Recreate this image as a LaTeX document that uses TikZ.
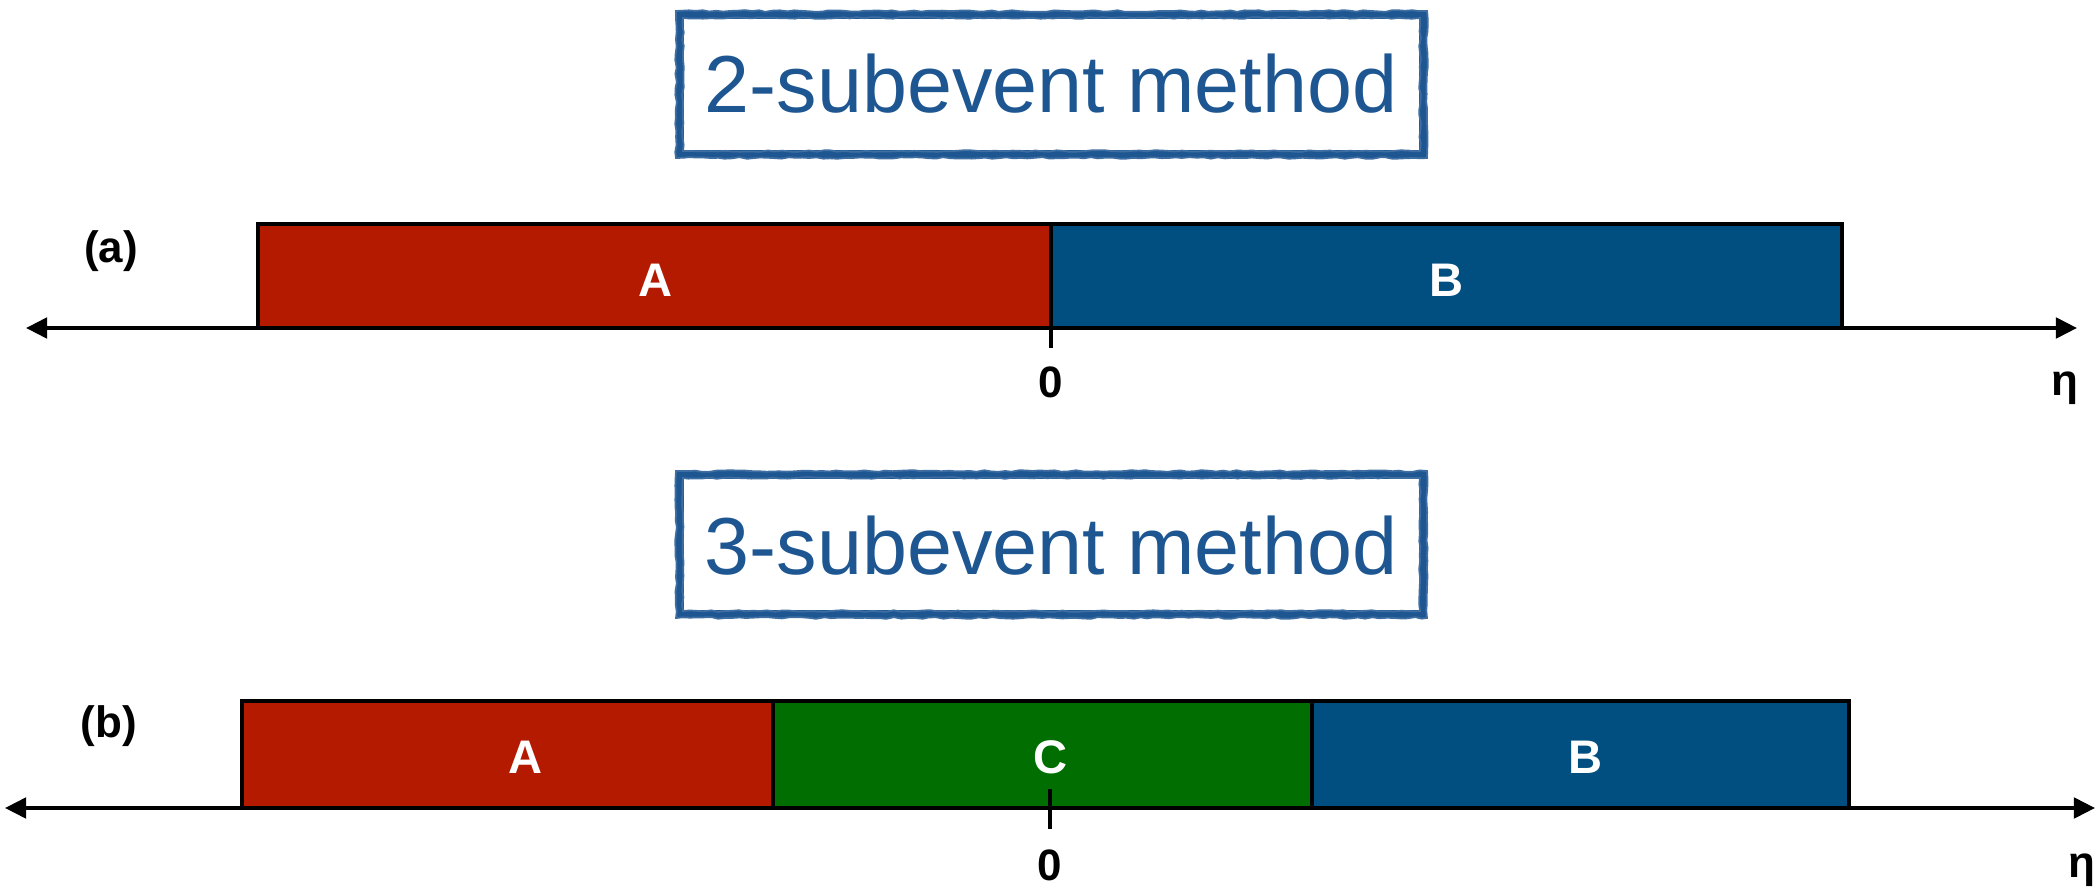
\documentclass[tikz,border=0pt]{standalone}
\usepackage{fontspec}
\setmainfont{Liberation Sans}
\usetikzlibrary{arrows.meta,decorations.pathmorphing}

\definecolor{segred}{HTML}{B41A00}
\definecolor{segblue}{HTML}{004F80}
\definecolor{seggreen}{HTML}{006E00}
\definecolor{titleblue}{HTML}{1D5691}

\tikzset{
  seg/.style={draw=black, line width=1.3pt},
  axis/.style={line width=1.1pt, {Triangle[length=6pt,width=5.8pt]}-{Triangle[length=6pt,width=5.8pt]}},
  zerotick/.style={line width=1.1pt},
  seglabel/.style={text=white, font=\fontsize{13.4}{15}\selectfont\bfseries, anchor=base},
  axislabel/.style={font=\fontsize{12.5}{14}\selectfont\bfseries, anchor=base},
  panellabel/.style={font=\fontsize{12.5}{14}\selectfont\bfseries},
  titletext/.style={text=titleblue, font=\fontsize{23}{27}\selectfont, inner sep=0pt},
  brush/.style={draw=titleblue, line width=2.3pt},
  brushrough/.style={draw=titleblue!85, line width=0.5pt,
    decorate, decoration={random steps, segment length=2pt, amplitude=0.25pt}},
}

\begin{document}
\begin{tikzpicture}[x=0.01cm, y=-0.01cm]
  \useasboundingbox (0,0) rectangle (2100,894);

  % ---------- titles in brush-stroke frames ----------
  \node[titletext] (t2) at (1051,84) {2-subevent method};
  \draw[brush] (680,15) rectangle (1423,154);
  \draw[brushrough] (676,11) rectangle (1427,158);
  \draw[brushrough] (683,18) rectangle (1420,151);

  \node[titletext] (t3) at (1051,546) {3-subevent method};
  \draw[brush] (680,475) rectangle (1423,614);
  \draw[brushrough] (676,471) rectangle (1427,618);
  \draw[brushrough] (683,478) rectangle (1420,611);

  % ---------- (a) two sub-events ----------
  \node[panellabel] (pa) at (111,251) {(a)};
  \path[seg, fill=segred]  (258,224) rectangle (1051,328);
  \path[seg, fill=segblue] (1051,224) rectangle (1842,328);
  \node[seglabel] (aA) at (656,296) {A};
  \node[seglabel] (aB) at (1446,296) {B};
  \coordinate (aL) at (26,328);
  \coordinate (aR) at (2077,328);
  \draw[axis] (aL) -- (aR);
  \coordinate (aT1) at (1051,328);
  \coordinate (aT2) at (1051,348);
  \draw[zerotick] (aT1) -- (aT2);
  \node[axislabel] (a0) at (1051,397) {0};
  \node[axislabel] (aeta) at (2065,395) {η};

  % ---------- (b) three sub-events ----------
  \node[panellabel] (pb) at (109,726) {(b)};
  \path[seg, fill=segred]   (242,701) rectangle (773,808);
  \path[seg, fill=seggreen] (773,701) rectangle (1312,808);
  \path[seg, fill=segblue]  (1312,701) rectangle (1849,808);
  \node[seglabel] (bA) at (526,773) {A};
  \node[seglabel] (bC) at (1050,773) {C};
  \node[seglabel] (bB) at (1585,773) {B};
  \coordinate (bL) at (5,808);
  \coordinate (bR) at (2095,808);
  \draw[axis] (bL) -- (bR);
  \coordinate (bT1) at (1050,789);
  \coordinate (bT2) at (1050,829);
  \draw[zerotick] (bT1) -- (bT2);
  \node[axislabel] (b0) at (1050,880) {0};
  \node[axislabel] (beta) at (2082,877) {η};
\end{tikzpicture}
\end{document}
